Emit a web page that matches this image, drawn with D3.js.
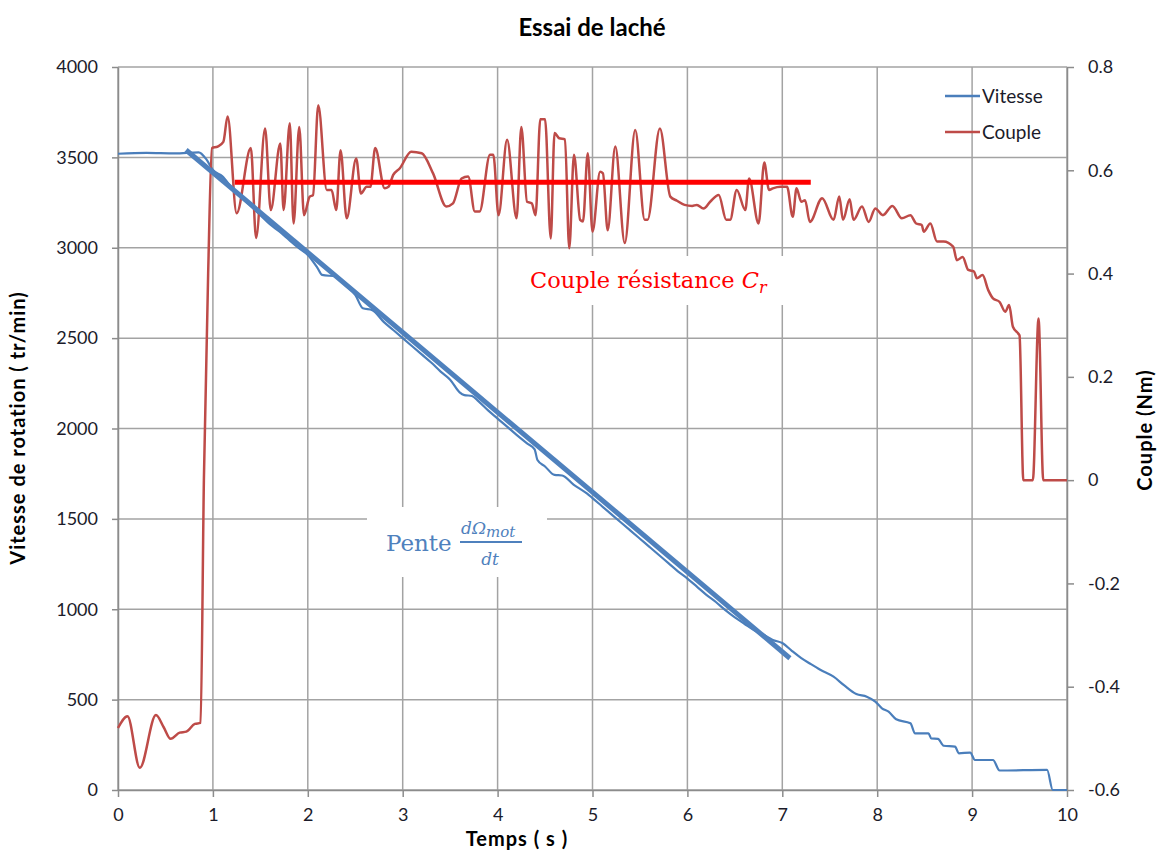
<!DOCTYPE html>
<html>
<head>
<meta charset="utf-8">
<script src="https://cdn.jsdelivr.net/npm/d3@7"></script>
<style>
  body { margin: 0; background: #fff; }
  text { font-family: Lato, "Open Sans", sans-serif; }
</style>
</head>
<body>
<div id="chart"></div>
<script>
// tick labels
const timeTicks = [0, 1, 2, 3, 4, 5, 6, 7, 8, 9, 10]
const rpmTicks = [0, 500, 1000, 1500, 2000, 2500, 3000, 3500, 4000]
const coupleTicks = [-0.6, -0.4, -0.2, 0, 0.2, 0.4, 0.6, 0.8]

// Vitesse (tr/min)
const velTime = [0, 0.3, 0.6, 0.85, 0.93, 1.0, 1.1, 1.2, 1.3, 1.4, 1.5, 1.6, 1.7, 1.8, 1.9, 2.0, 2.1, 2.15, 2.3, 2.4, 2.5, 2.58, 2.68, 2.8, 2.9, 3.0, 3.1, 3.2, 3.3, 3.4, 3.5, 3.6, 3.65, 3.73, 3.8, 3.9, 4.0, 4.1, 4.2, 4.31, 4.39, 4.42, 4.5, 4.6, 4.68, 4.8, 4.94, 5.0, 5.1, 5.2, 5.3, 5.4, 5.5, 5.6, 5.7, 5.8, 5.9, 6.0, 6.1, 6.2, 6.3, 6.4, 6.5, 6.6, 6.7, 6.8, 6.9, 7.0, 7.1, 7.2, 7.29, 7.4, 7.54, 7.65, 7.78, 7.89, 7.98, 8.05, 8.12, 8.2, 8.35, 8.4, 8.54, 8.57, 8.64, 8.7, 8.82, 8.86, 8.98, 9.03, 9.22, 9.29, 9.79, 9.85, 10]
const velRpm = [3520, 3525, 3522, 3528, 3490, 3430, 3395, 3330, 3280, 3230, 3180, 3130, 3090, 3045, 3000, 2960, 2890, 2850, 2840, 2790, 2740, 2665, 2655, 2590, 2545, 2500, 2455, 2410, 2365, 2315, 2270, 2200, 2185, 2180, 2150, 2100, 2055, 2010, 1965, 1918, 1885, 1826, 1790, 1743, 1740, 1690, 1641, 1615, 1570, 1525, 1480, 1435, 1390, 1345, 1300, 1255, 1210, 1170, 1125, 1080, 1040, 995, 955, 920, 885, 860, 830, 813, 770, 730, 700, 665, 627, 580, 531, 516, 489, 452, 433, 391, 369, 313, 313, 285, 283, 245, 240, 203, 207, 166, 166, 108, 111, 0, 0]

// Couple (Nm)
const coupleTime = [0, 0.10, 0.23, 0.40, 0.48, 0.555, 0.65, 0.72, 0.81, 0.87, 0.905, 0.95, 0.99, 1.05, 1.11, 1.155, 1.25, 1.40, 1.455, 1.55, 1.61, 1.71, 1.745, 1.81, 1.85, 1.91, 1.96, 2.02, 2.055, 2.11, 2.20, 2.25, 2.30, 2.345, 2.41, 2.51, 2.56, 2.62, 2.66, 2.71, 2.81, 2.85, 2.90, 2.97, 3.09, 3.20, 3.32, 3.46, 3.53, 3.62, 3.69, 3.76, 3.81, 3.92, 3.955, 4.01, 4.10, 4.20, 4.25, 4.31, 4.36, 4.40, 4.45, 4.50, 4.56, 4.60, 4.65, 4.71, 4.755, 4.805, 4.87, 4.90, 4.95, 5.00, 5.08, 5.11, 5.16, 5.24, 5.34, 5.45, 5.55, 5.58, 5.71, 5.82, 5.89, 5.97, 6.05, 6.10, 6.17, 6.24, 6.33, 6.41, 6.45, 6.52, 6.61, 6.65, 6.75, 6.81, 6.86, 6.90, 6.98, 7.05, 7.11, 7.15, 7.20, 7.24, 7.29, 7.42, 7.54, 7.60, 7.64, 7.71, 7.75, 7.84, 7.91, 7.98, 8.06, 8.16, 8.26, 8.35, 8.41, 8.47, 8.49, 8.56, 8.63, 8.70, 8.80, 8.84, 8.90, 8.96, 9.02, 9.05, 9.11, 9.17, 9.22, 9.29, 9.35, 9.39, 9.43, 9.49, 9.50, 9.54, 9.64, 9.70, 9.75, 10.0]
const coupleNm = [-0.48, -0.457, -0.557, -0.455, -0.478, -0.501, -0.489, -0.487, -0.472, -0.47, 0.0, 0.4, 0.643, 0.646, 0.655, 0.704, 0.517, 0.643, 0.469, 0.681, 0.523, 0.652, 0.523, 0.691, 0.497, 0.684, 0.513, 0.549, 0.552, 0.726, 0.562, 0.562, 0.523, 0.639, 0.507, 0.623, 0.555, 0.568, 0.568, 0.643, 0.565, 0.568, 0.591, 0.604, 0.636, 0.633, 0.594, 0.530, 0.536, 0.584, 0.588, 0.520, 0.520, 0.630, 0.630, 0.513, 0.659, 0.507, 0.684, 0.539, 0.536, 0.513, 0.699, 0.699, 0.468, 0.672, 0.662, 0.660, 0.449, 0.630, 0.504, 0.501, 0.633, 0.481, 0.597, 0.594, 0.484, 0.646, 0.459, 0.678, 0.504, 0.504, 0.681, 0.549, 0.541, 0.533, 0.531, 0.533, 0.526, 0.539, 0.552, 0.504, 0.504, 0.562, 0.523, 0.584, 0.497, 0.615, 0.562, 0.565, 0.568, 0.568, 0.510, 0.565, 0.539, 0.542, 0.500, 0.546, 0.504, 0.549, 0.504, 0.544, 0.504, 0.530, 0.500, 0.526, 0.513, 0.531, 0.507, 0.513, 0.497, 0.494, 0.481, 0.497, 0.462, 0.462, 0.452, 0.426, 0.432, 0.407, 0.404, 0.391, 0.397, 0.368, 0.352, 0.345, 0.326, 0.339, 0.297, 0.283, 0.280, 0.0, 0.0, 0.313, 0.0, 0.0]

// droites tracees a la main
const fitTime = [0.717, 7.08]
const fitRpm = [3541, 729]
const crTime = [1.23, 7.3]
const crNm = [0.577, 0.577]

const width = 1157, height = 850
const plotLeft = 118, plotRight = 1067, plotTop = 67, plotBottom = 790

const svg = d3.select("#chart").append("svg")
    .attr("width", width)
    .attr("height", height)

const x = d3.scaleLinear().domain([0, 10]).range([plotLeft, plotRight])
const yL = d3.scaleLinear().domain([0, 4000]).range([plotBottom, plotTop])
const yR = d3.scaleLinear().domain([-0.6, 0.8]).range([plotBottom, plotTop])

const gridColor = "#a3a3a3"

// grid
svg.append("g").selectAll("line").data(rpmTicks).enter().append("line")
    .attr("x1", plotLeft).attr("x2", plotRight)
    .attr("y1", d => yL(d)).attr("y2", d => yL(d))
    .attr("stroke", gridColor).attr("stroke-width", 1.5)
svg.append("g").selectAll("line").data(timeTicks).enter().append("line")
    .attr("x1", d => x(d)).attr("x2", d => x(d))
    .attr("y1", plotTop).attr("y2", plotBottom)
    .attr("stroke", gridColor).attr("stroke-width", 1.5)

// axes
function styleAxis(g) {
    g.selectAll(".domain").attr("stroke", "#8c8c8c").attr("stroke-width", 1.5)
    g.selectAll(".tick line").attr("stroke", "#8c8c8c").attr("stroke-width", 1.5)
    g.selectAll(".tick text").attr("fill", "#1b1b2a").style("font-size", "18px")
        .style("font-family", "Lato, sans-serif")
}
svg.append("g").attr("transform", `translate(${plotLeft},0)`)
    .call(d3.axisLeft(yL).tickValues(rpmTicks).tickSize(6).tickSizeOuter(0).tickPadding(14).tickFormat(d3.format("d")))
    .call(styleAxis)
svg.append("g").attr("transform", `translate(0,${plotBottom})`)
    .call(d3.axisBottom(x).tickValues(timeTicks).tickSize(7).tickSizeOuter(0).tickPadding(11).tickFormat(d3.format("d")))
    .call(styleAxis)
svg.append("g").attr("transform", `translate(${plotRight},0)`)
    .call(d3.axisRight(yR).tickValues(coupleTicks).tickSize(7).tickSizeOuter(0).tickPadding(14)
        .tickFormat(d => Math.abs(d) < 1e-9 ? "0" : d.toFixed(1)))
    .call(styleAxis)

// white label boxes
svg.append("rect").attr("x", 518).attr("y", 256).attr("width", 267).attr("height", 49).attr("fill", "#fff")
svg.append("rect").attr("x", 367).attr("y", 507).attr("width", 180).attr("height", 70).attr("fill", "#fff")

// titles
svg.append("text").attr("x", 592).attr("y", 36).attr("text-anchor", "middle")
    .style("font-size", "24px").style("font-weight", "bold").text("Essai de laché")
svg.append("text").attr("transform", "translate(25,428) rotate(-90)").attr("text-anchor", "middle")
    .style("font-size", "20px").style("font-weight", "bold").style("letter-spacing", "1px")
    .text("Vitesse de rotation ( tr/min)")
svg.append("text").attr("transform", "translate(1152,430) rotate(-90)").attr("text-anchor", "middle")
    .style("font-size", "20px").style("font-weight", "bold").style("letter-spacing", "1px")
    .text("Couple (Nm)")
svg.append("text").attr("x", 517).attr("y", 846).attr("text-anchor", "middle")
    .style("font-size", "20px").style("font-weight", "bold").style("letter-spacing", "1px")
    .text("Temps ( s )")

// lines
const velLine = d3.line().x((d, i) => x(velTime[i])).y(d => yL(d)).curve(d3.curveMonotoneX)
const coupleLine = d3.line().x((d, i) => x(coupleTime[i])).y(d => yR(d)).curve(d3.curveMonotoneX)

svg.append("path").datum(velRpm).attr("d", velLine)
    .attr("fill", "none").attr("stroke", "#4a7ebb").attr("stroke-width", 2.2)
svg.append("path").datum(coupleNm).attr("d", coupleLine)
    .attr("fill", "none").attr("stroke", "#be4b48").attr("stroke-width", 2.5)

const fitLine = d3.line().x((d, i) => x(fitTime[i])).y(d => yL(d))
svg.append("path").datum(fitRpm).attr("d", fitLine)
    .attr("fill", "none").attr("stroke", "#4f81bd").attr("stroke-width", 5)
const crLine = d3.line().x((d, i) => x(crTime[i])).y(d => yR(d))
svg.append("path").datum(crNm).attr("d", crLine)
    .attr("fill", "none").attr("stroke", "#ff0000").attr("stroke-width", 5)

// annotations
let cr = svg.append("text").attr("x", 530).attr("y", 288)
    .style("font-family", "'DejaVu Serif', serif").style("font-size", "22.5px").attr("fill", "#ff0000")
cr.append("tspan").text("Couple résistance ")
cr.append("tspan").style("font-style", "italic").text("C")
cr.append("tspan").style("font-style", "italic").style("font-size", "16px").attr("dy", 5).text("r")

svg.append("text").attr("x", 386).attr("y", 551)
    .style("font-family", "'DejaVu Serif', serif").style("font-size", "23px").attr("fill", "#4f81bd")
    .text("Pente")
let num = svg.append("text").attr("x", 461).attr("y", 534)
    .style("font-family", "'DejaVu Serif', serif").style("font-size", "17px").style("font-style", "italic").attr("fill", "#4f81bd")
num.append("tspan").text("dΩ")
num.append("tspan").style("font-size", "15px").attr("dy", 3).text("mot")
svg.append("line").attr("x1", 460).attr("x2", 522).attr("y1", 542).attr("y2", 542)
    .attr("stroke", "#4f81bd").attr("stroke-width", 1.8)
svg.append("text").attr("x", 490).attr("y", 565).attr("text-anchor", "middle")
    .style("font-family", "'DejaVu Serif', serif").style("font-size", "17px").style("font-style", "italic").attr("fill", "#4f81bd")
    .text("dt")

// legend
const legend = [["Vitesse", "#4a7ebb", 96], ["Couple", "#be4b48", 132]]
legend.forEach(l => {
    svg.append("line").attr("x1", 945).attr("x2", 980).attr("y1", l[2]).attr("y2", l[2])
        .attr("stroke", l[1]).attr("stroke-width", 2.5)
    svg.append("text").attr("x", 982).attr("y", l[2] + 7).style("font-size", "19px").attr("fill", "#1b1b2a").text(l[0])
})
</script>
</body>
</html>
